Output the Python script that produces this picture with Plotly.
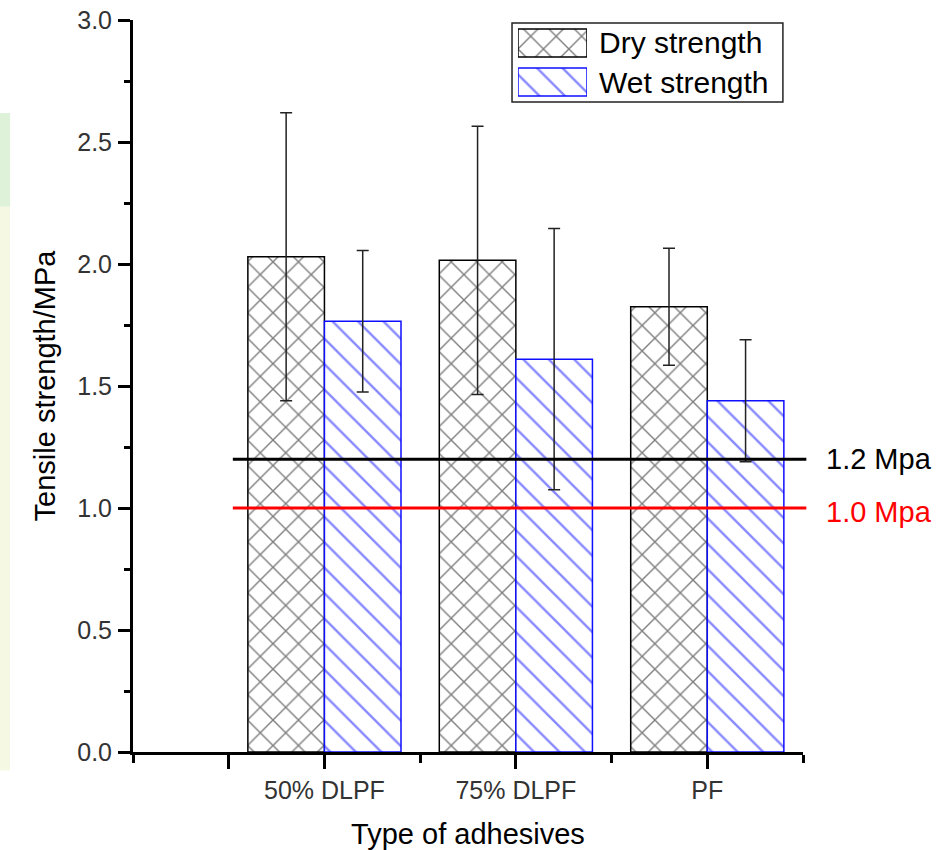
import plotly.graph_objects as go

# ---- data ----
categories = ["50% DLPF", "75% DLPF", "PF"]
cat_pos = [1, 2, 3]
dry_strength = [2.03, 2.015, 1.825]
dry_error = [0.59, 0.55, 0.24]
wet_strength = [1.765, 1.61, 1.44]
wet_error = [0.29, 0.535, 0.25]
series_names = ["Dry strength", "Wet strength"]
ref_values = [1.2, 1.0]
ref_labels = ["1.2 Mpa", "1.0 Mpa"]
ref_colors = ["black", "red"]
y_ticks = [0.0, 0.5, 1.0, 1.5, 2.0, 2.5, 3.0]

FONT = "Liberation Sans, Arial, sans-serif"
BLUE = "#0f0fff"

dry_marker = dict(color="white", line=dict(color="black", width=1.5),
                  pattern=dict(shape="x", fgcolor="black", bgcolor="white",
                               size=18, solidity=0.15))
wet_marker = dict(color="white", line=dict(color=BLUE, width=1.5),
                  pattern=dict(shape="\\", fgcolor=BLUE, bgcolor="white",
                               size=18, solidity=0.13))

fig = go.Figure()
fig.add_trace(go.Bar(
    x=cat_pos, y=dry_strength, name=series_names[0], marker=dry_marker,
    error_y=dict(type="data", array=dry_error, color="#222", thickness=1.5, width=6),
    showlegend=False))
fig.add_trace(go.Bar(
    x=cat_pos, y=wet_strength, name=series_names[1], marker=wet_marker,
    error_y=dict(type="data", array=wet_error, color="#222", thickness=1.5, width=6),
    showlegend=False))

# custom legend swatches (one horizontal bar per series on a hidden axis)
fig.add_trace(go.Bar(
    x=[1, 1], y=[1, 0], base=0, orientation="h", width=0.72,
    xaxis="x2", yaxis="y2", showlegend=False, hoverinfo="skip",
    marker=dict(color="white",
                line=dict(color=["black", BLUE], width=1.5),
                pattern=dict(shape=["x", "\\"], fgcolor=["black", BLUE],
                             bgcolor="white", size=18, solidity=[0.15, 0.13]))))

shapes = []
annotations = []
# reference lines
for v, lab, col in zip(ref_values, ref_labels, ref_colors):
    shapes.append(dict(type="line", xref="paper", yref="y", x0=0.149, x1=1.005,
                       y0=v, y1=v, line=dict(color=col, width=3)))
    annotations.append(dict(xref="paper", yref="y", x=1.032, y=v, text=lab,
                            xanchor="left", yanchor="middle", showarrow=False,
                            yshift=-4 if v < 1.1 else 0,
                            font=dict(family=FONT, size=29, color=col)))
# legend box
shapes.append(dict(type="rect", xref="paper", yref="paper", x0=0.5657, x1=0.970,
                   y0=0.888, y1=0.9959, line=dict(color="#222", width=1.5)))
for name, yy in zip(series_names, [0.9686, 0.9153]):
    annotations.append(dict(xref="paper", yref="paper", x=0.6925, y=yy, text=name,
                            xanchor="left", yanchor="middle", showarrow=False,
                            font=dict(family=FONT, size=30, color="black")))
# faint background strip at far left
shapes.append(dict(type="rect", xref="paper", yref="paper", x0=-0.2, x1=-0.1835,
                   y0=0.745, y1=0.873, line=dict(width=0), fillcolor="#ddf2d8", layer="below"))
shapes.append(dict(type="rect", xref="paper", yref="paper", x0=-0.2, x1=-0.1835,
                   y0=-0.025, y1=0.745, line=dict(width=0), fillcolor="#f5f8e2", layer="below"))

fig.update_layout(
    width=949, height=850,
    margin=dict(l=133, r=146, t=20, b=98, autoexpand=False),
    paper_bgcolor="white", plot_bgcolor="white",
    barmode="group", bargap=0.2, bargroupgap=0,
    font=dict(family=FONT, color="black"),
    shapes=shapes, annotations=annotations,
    xaxis=dict(
        range=[0, 3.5], showgrid=False, zeroline=False, automargin=False,
        showline=True, linecolor="black", linewidth=3,
        tickmode="array", tickvals=[0.5] + cat_pos, ticktext=[""] + categories,
        ticks="outside", ticklen=14, tickwidth=2.5, tickcolor="black",
        tickfont=dict(family=FONT, size=25, color="#333"),
        minor=dict(tickvals=[0, 1.5, 2.5, 3.5], ticks="outside", ticklen=8,
                   tickwidth=2.5, tickcolor="black", showgrid=False),
        title=dict(text="Type of adhesives", standoff=22,
                   font=dict(family=FONT, size=29, color="black")),
    ),
    yaxis=dict(
        range=[0, 3.0], showgrid=False, zeroline=False, automargin=False,
        showline=True, linecolor="black", linewidth=3,
        tickmode="array", tickvals=y_ticks, ticktext=[f"{t:.1f}" for t in y_ticks],
        ticks="outside", ticklen=12, tickwidth=2.5, tickcolor="black",
        ticklabelstandoff=1,
        tickfont=dict(family=FONT, size=25, color="#333"),
        minor=dict(dtick=0.25, ticks="outside", ticklen=6, tickwidth=2.5,
                   tickcolor="black", showgrid=False),
        title=dict(text="Tensile strength/MPa", standoff=14,
                   font=dict(family=FONT, size=29, color="black")),
    ),
    xaxis2=dict(domain=[0.5746, 0.6776], anchor="y2", range=[0, 1], visible=False,
                fixedrange=True),
    yaxis2=dict(domain=[0.8887, 0.9952], anchor="x2", range=[-0.5, 1.5], visible=False,
                fixedrange=True),
)

fig.write_html("out.html", config={"displayModeBar": False},
               post_script="document.body.style.margin='0';document.body.style.overflow='hidden';")
